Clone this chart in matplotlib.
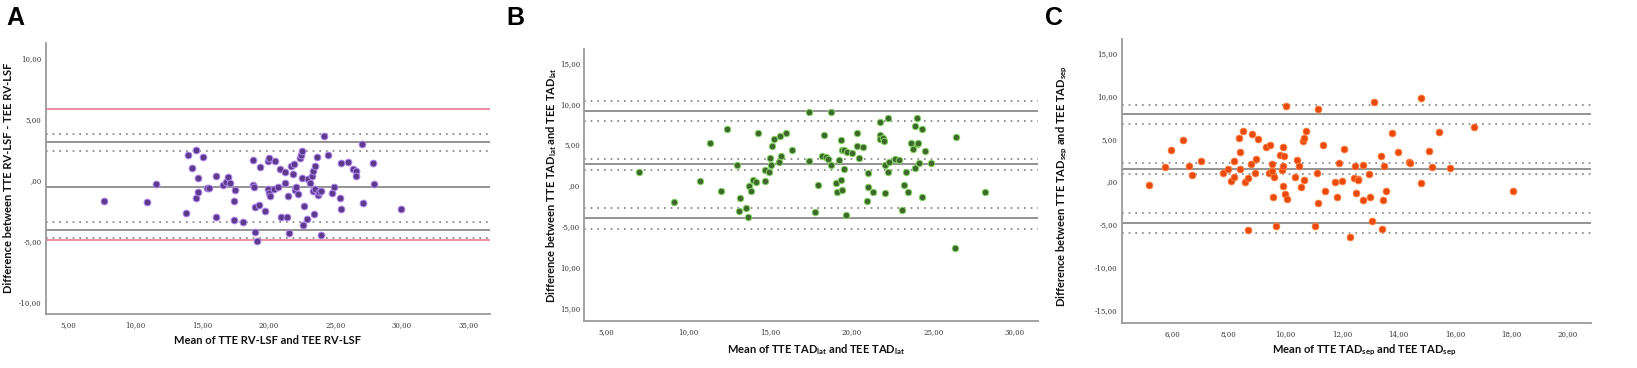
import matplotlib
matplotlib.use("Agg")
import matplotlib.pyplot as plt

plt.rcParams['font.family'] = ['Lato', 'DejaVu Sans']
plt.rcParams['mathtext.fontset'] = 'custom'
plt.rcParams['mathtext.bf'] = 'Lato:bold'
plt.rcParams['mathtext.rm'] = 'Lato:bold'
plt.rcParams['mathtext.default'] = 'bf'

# ---------------- Panel A: RV-LSF ----------------
a_mean = [7.68, 10.88, 11.55, 13.83, 13.95, 14.3, 14.55, 14.58, 14.75, 14.73, 15.1, 15.38, 15.53,
          16.03, 16.03, 16.58, 16.83, 16.98, 17.1, 17.38, 17.45, 17.5, 18.08, 18.85, 18.85, 18.88,
          18.95, 18.95, 19.15, 19.25, 19.35, 19.7, 19.93, 19.95, 20.03, 20.0, 20.08, 20.4, 20.48,
          20.68, 20.83, 20.93, 21.2, 21.25, 21.38, 21.45, 21.53, 21.68, 21.83, 21.9, 21.98, 22.03,
          22.23, 22.38, 22.4, 22.48, 22.5, 22.55, 22.68, 22.88, 22.93, 23.1, 23.25, 23.3, 23.3,
          23.38, 23.48, 23.45, 23.63, 23.7, 23.78, 23.9, 23.95, 24.15, 24.48, 24.78, 24.9, 25.38,
          25.4, 25.4, 25.93, 26.3, 26.53, 26.53, 26.98, 27.05, 27.83, 27.88, 29.95]
a_diff = [-1.70, -1.81, -0.33, -2.68, 2.03, 0.96, 2.47, -1.45, 0.16, -1.01, 1.92, -0.66, -0.66,
          0.36, -3.04, -0.44, -0.16, 0.22, -0.25, -3.26, -1.75, -0.85, -3.45, 1.62, -0.44, -0.58,
          -4.22, -2.25, -4.99, -2.03, 1.04, -2.55, -0.77, 1.59, 1.81, -1.04, -1.32, -0.71, 1.56,
          -0.60, 0.90, -2.99, 0.68, -0.25, -3.01, -1.34, -4.38, 1.18, 0.49, 1.32, -0.85, -0.55,
          -1.15, 1.81, 2.05, 2.36, 0.19, -3.70, -2.16, -3.18, 0.08, -0.22, 0.36, 0.77, -0.88,
          -2.82, 1.12, -0.74, 1.86, -1.21, -0.99, -0.93, -4.47, 3.62, 2.08, -1.07, -0.55, -1.51,
          1.42, -2.38, 1.51, 0.93, 0.71, 0.36, 2.96, -1.89, 1.40, -0.36, -2.38]
a_solid = [3.10, -0.58, -4.08]
a_dotted = [3.75, 2.41, -3.42, -4.74]
a_red = [5.81, -4.90]

# ---------------- Panel B: TAD lat ----------------
b_mean = [6.96, 9.14, 10.71, 11.35, 12.02, 12.37, 13.0, 13.1, 13.16, 13.51, 13.63, 13.69, 13.86,
          13.96, 14.16, 14.29, 14.67, 14.69, 14.92, 15.02, 15.08, 15.14, 15.22, 15.57, 15.63, 15.67,
          16.0, 16.35, 17.41, 17.41, 17.76, 17.96, 18.2, 18.29, 18.43, 18.53, 18.71, 18.76, 19.04,
          19.1, 19.24, 19.33, 19.37, 19.39, 19.39, 19.51, 19.51, 19.65, 19.73, 20.04, 20.33, 20.35,
          20.43, 20.67, 20.92, 20.98, 21.0, 21.33, 21.71, 21.73, 21.76, 21.92, 21.96, 22.02, 22.04,
          22.22, 22.24, 22.31, 22.63, 22.9, 23.06, 23.2, 23.33, 23.45, 23.63, 23.76, 23.86, 23.88,
          24.02, 24.02, 24.06, 24.1, 24.29, 24.31, 24.47, 24.86, 26.33, 26.39, 28.18]
b_diff = [1.63, -2.0, 0.57, 5.15, -0.69, 6.87, 2.49, -3.11, -1.59, -2.74, -3.84, -0.08, -0.69,
          0.69, 0.37, 6.46, 0.49, 1.88, 1.63, 3.35, 2.45, 4.78, 5.64, 2.86, 6.05, 3.56,
          6.46, 4.33, 9.03, 2.94, -3.31, 0.04, 3.60, 6.17, 3.43, 3.19, 2.49, 8.99, 0.25,
          -0.86, 3.07, 0.65, 5.52, -0.57, 4.33, 4.33, 2.0, -3.64, 4.05, 4.0, 6.38, 4.82,
          3.35, 4.70, -1.88, -0.25, 1.51, -0.82, 7.81, 6.13, 5.64, 5.84, 5.44, 2.53, -0.90,
          8.21, 1.63, 2.90, 3.19, 3.07, -3.02, 0.04, 1.63, -0.82, 5.23, 4.41, 7.27, 2.13,
          8.26, 5.07, 5.15, 2.74, 6.95, -1.43, 4.21, 2.74, -7.72, 5.93, -0.86]
b_solid = [9.15, 2.57, -4.05]
b_dotted = [10.38, 7.89, 3.23, 1.84, -2.82, -5.31]

# ---------------- Panel C: TAD sep ----------------
c_mean = [5.17, 5.73, 5.96, 6.39, 6.6, 6.7, 7.0, 7.8, 7.96, 8.08, 8.19, 8.19, 8.35, 8.39, 8.41,
          8.5, 8.56, 8.69, 8.69, 8.78, 8.83, 8.92, 8.96, 9.04, 9.31, 9.41, 9.46, 9.53, 9.54, 9.55,
          9.6, 9.66, 9.81, 9.89, 9.92, 9.92, 9.93, 9.95, 9.99, 10.03, 10.04, 10.34, 10.4, 10.49,
          10.54, 10.61, 10.65, 10.65, 10.72, 11.05, 11.13, 11.14, 11.17, 11.32, 11.41, 11.75, 11.81,
          11.91, 11.99, 12.08, 12.3, 12.42, 12.45, 12.51, 12.58, 12.56, 12.75, 12.76, 12.97, 13.0,
          13.08, 13.15, 13.38, 13.42, 13.46, 13.5, 13.55, 13.78, 14.0, 14.38, 14.42, 14.79, 14.79,
          15.09, 15.19, 15.42, 15.83, 16.67, 18.06]
c_diff = [-0.39, 1.75, 3.65, 4.82, 1.83, 0.78, 2.45, 1.01, 1.52, 0.08, 2.37, 0.54, 5.09, 1.52, 3.50,
          5.91, 0.0, 0.47, -5.60, 2.02, 5.52, 0.97, 2.64, 5.01, 4.08, 1.01, 4.24, 1.20, 2.06, -1.75,
          0.51, -5.13, 3.11, 1.40, 4.04, 1.83, -0.47, 2.95, -1.44, 8.82, -2.06, 0.51, 2.49, 1.79,
          -0.58, 4.74, 5.13, 0.16, 5.95, -5.17, 1.05, -2.49, 8.51, 4.24, -1.05, 0.0, -1.75,
          2.14, 0.12, 3.81, -6.49, 0.47, 1.87, -1.32, 0.35, 0.16, 1.94, -2.18, 0.93, -1.83,
          -4.62, 9.29, 2.99, -5.56, -2.18, 1.83, -1.09, 5.71, 3.50, 2.25, 2.18, 9.72, -0.19,
          3.54, 1.67, 5.83, 1.63, 6.41, -1.05]
c_solid = [7.85, 1.48, -4.78]
c_dotted = [8.94, 6.68, 2.18, 0.86, -3.61, -6.02]

# tick labels
a_xticks = [5, 10, 15, 20, 25, 30, 35]
a_xlabels = ["5,00", "10,00", "15,00", "20,00", "25,00", "30,00", "35,00"]
a_yticks = [-10, -5, 0, 5, 10]
a_ylabels = ["-10,00", "-5,00", ",00", "5,00", "10,00"]
b_xticks = [5, 10, 15, 20, 25, 30]
b_xlabels = ["5,00", "10,00", "15,00", "20,00", "25,00", "30,00"]
b_yticks = [-15, -10, -5, 0, 5, 10, 15]
b_ylabels = ["15,00", "10,00", "-5,00", ",00", "5,00", "10,00", "15,00"]
c_xticks = [6, 8, 10, 12, 14, 16, 18, 20]
c_xlabels = ["6,00", "8,00", "10,00", "12,00", "14,00", "16,00", "18,00", "20,00"]
c_yticks = [-15, -10, -5, 0, 5, 10, 15]
c_ylabels = ["-15,00", "-10,00", "-5,00", ",00", "5,00", "10,00", "15,00"]

W, H = 1637, 368
fig = plt.figure(figsize=(W / 100, H / 100), dpi=100)


def make_ax(l, r, t, b):
    return fig.add_axes([l / W, (H - b) / H, (r - l) / W, (b - t) / H])


axA = make_ax(45.7, 490, 43.3, 314.3)
axB = make_ax(584.3, 1037.7, 49.3, 321)
axC = make_ax(1121.7, 1591, 39, 323.3)

GRAY = '#8a8a8a'


def style(ax, xlim, ylim, xt, xl, yt, yl):
    ax.set_xlim(*xlim)
    ax.set_ylim(*ylim)
    ax.set_xticks(xt)
    ax.set_xticklabels(xl)
    ax.set_yticks(yt)
    ax.set_yticklabels(yl)
    for s in ['top', 'right']:
        ax.spines[s].set_visible(False)
    for s in ['left', 'bottom']:
        ax.spines[s].set_color('#9a9a9a')
        ax.spines[s].set_linewidth(1.3)
    ax.tick_params(length=0, labelsize=5, colors='#333333')
    ax.tick_params(axis='x', pad=5)
    ax.tick_params(axis='y', pad=3)
    for lab in ax.get_xticklabels() + ax.get_yticklabels():
        lab.set_family('DejaVu Serif')


def lines(ax, solid, dotted):
    for v in solid:
        ax.axhline(v, color=GRAY, lw=1.3, zorder=1)
    for v in dotted:
        ax.axhline(v, color='#7e7e7e', lw=1.2, ls=(0, (1, 3.0)), zorder=1)


# Panel A
lines(axA, a_solid, a_dotted)
for v in a_red:
    axA.axhline(v, color='#e8708c', lw=1.1, zorder=1)
axA.scatter(a_mean, a_diff, s=24, c='#5c3b8e', edgecolors='#b489f0', linewidths=0.7, zorder=3)
style(axA, (3.3, 36.6), (-11.0, 11.2), a_xticks, a_xlabels, a_yticks, a_ylabels)

# Panel B
lines(axB, b_solid, b_dotted)
axB.scatter(b_mean, b_diff, s=22, c='#3d6a2c', edgecolors='#86d464', linewidths=0.7, zorder=3)
style(axB, (3.63, 31.39), (-16.63, 16.67), b_xticks, b_xlabels, b_yticks, b_ylabels)

# Panel C
lines(axC, c_solid, c_dotted)
axC.scatter(c_mean, c_diff, s=24, c='#e8490f', edgecolors='#ff8040', linewidths=0.6, zorder=3)
style(axC, (4.21, 20.81), (-16.52, 16.63), c_xticks, c_xlabels, c_yticks, c_ylabels)

lab_kw = dict(fontsize=8, fontweight='bold', color='#111111')
fig.text(8.5 / W, 1 - 178 / H, "Difference between TTE RV-LSF - TEE RV-LSF", rotation=90,
         ha='center', va='center', **lab_kw)
fig.text(268 / W, 1 - 340 / H, "Mean of TTE RV-LSF and TEE RV-LSF", ha='center', va='center', **lab_kw)
fig.text(552 / W, 1 - 185 / H, r"Difference between TTE TAD$_{lat}$ and TEE TAD$_{lat}$", rotation=90,
         ha='center', va='center', **lab_kw)
fig.text(816 / W, 1 - 350 / H, r"Mean of TTE TAD$_{lat}$ and TEE TAD$_{lat}$", ha='center', va='center', **lab_kw)
fig.text(1062 / W, 1 - 186 / H, r"Difference between TTE TAD$_{sep}$ and TEE TAD$_{sep}$", rotation=90,
         ha='center', va='center', **lab_kw)
fig.text(1364 / W, 1 - 350 / H, r"Mean of TTE TAD$_{sep}$ and TEE TAD$_{sep}$", ha='center', va='center', **lab_kw)

pan_kw = dict(fontsize=18, fontweight='bold', color='black', family='Liberation Sans', va='top', ha='left')
fig.text(6 / W, 1 - 6 / H, "A", **pan_kw)
fig.text(506 / W, 1 - 6 / H, "B", **pan_kw)
fig.text(1045 / W, 1 - 6 / H, "C", **pan_kw)

fig.savefig("out.png", dpi=100, facecolor='white')
